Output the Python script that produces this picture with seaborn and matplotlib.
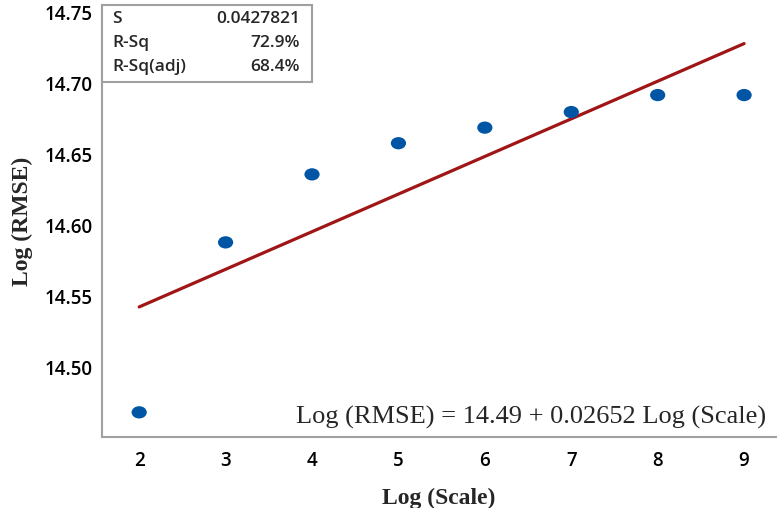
import numpy as np
import pandas as pd
import matplotlib
matplotlib.use("Agg")
import matplotlib.pyplot as plt
import seaborn as sns
from matplotlib.patches import Rectangle
from matplotlib.markers import MarkerStyle
import matplotlib.transforms as mtrans

log_scale = [2, 3, 4, 5, 6, 7, 8, 9]
log_rmse = [14.468, 14.588, 14.636, 14.658, 14.669, 14.680, 14.692, 14.692]
y_ticks = [14.50, 14.55, 14.60, 14.65, 14.70, 14.75]
x_ticks = [2, 3, 4, 5, 6, 7, 8, 9]
stat_names = ["S", "R-Sq", "R-Sq(adj)"]
stat_values = ["0.0427821", "72.9%", "68.4%"]
equation = "Log (RMSE) = 14.49 + 0.02652 Log (Scale)"

df = pd.DataFrame({"Log (Scale)": log_scale, "Log (RMSE)": log_rmse})

sns.set_theme(style="white")
plt.rcParams["font.family"] = ["Open Sans", "DejaVu Sans"]

fig = plt.figure(figsize=(7.77, 5.08), dpi=100)
ax = fig.add_axes([0.1313, 0.1398, 0.8675, 0.8504])

sns.regplot(data=df, x="Log (Scale)", y="Log (RMSE)", ax=ax, ci=None, truncate=True,
            scatter_kws=dict(s=78, color="#0055A5", edgecolor="none", alpha=1, zorder=3),
            line_kws=dict(color="#A01515", lw=2.3, zorder=2))
path = MarkerStyle("o").get_path().transformed(mtrans.Affine2D().scale(0.62, 0.5))
ax.collections[0].set_paths([path])

ax.set_xlim(1.57, 9.37)
ax.set_ylim(14.4506, 14.7556)
ax.set_xticks(x_ticks)
ax.set_yticks(y_ticks)
ax.set_xticklabels([str(v) for v in x_ticks])
ax.set_yticklabels([f"{v:.2f}" for v in y_ticks])
ax.tick_params(axis="both", which="major", labelsize=13.5, length=4, width=1,
               color="#999999", labelcolor="black", direction="out", pad=3)
ax.tick_params(axis="x", pad=6)
for lbl in ax.get_xticklabels() + ax.get_yticklabels():
    lbl.set_fontweight("semibold")

for s in ["top", "right"]:
    ax.spines[s].set_visible(False)
for s in ["left", "bottom"]:
    ax.spines[s].set_color("#A0A0A0")
    ax.spines[s].set_linewidth(1.5)

ax.set_xlabel("Log (Scale)", family=["Liberation Serif"], fontweight="bold", fontsize=17, labelpad=12)
ax.set_ylabel("Log (RMSE)", family=["Liberation Serif"], fontweight="bold", fontsize=17, labelpad=8)

# statistics box
box = Rectangle((0, 0.822), 0.3116, 0.178, transform=ax.transAxes, fill=True,
                facecolor="white", edgecolor="#A0A0A0", lw=1.5, zorder=5, clip_on=False)
ax.add_patch(box)
for i, (n, v) in enumerate(zip(stat_names, stat_values)):
    yy = 0.968 - i * 0.0555
    ax.text(0.015, yy, n, transform=ax.transAxes, fontsize=12.5, va="center", ha="left",
            fontweight="semibold", zorder=6)
    ax.text(0.294, yy, v, transform=ax.transAxes, fontsize=12.5, va="center", ha="right",
            fontweight="semibold", zorder=6)

ax.text(0.985, 0.045, equation, transform=ax.transAxes, ha="right", va="center",
        family=["Liberation Serif"], fontsize=19)

fig.savefig("out.png", dpi=100)
